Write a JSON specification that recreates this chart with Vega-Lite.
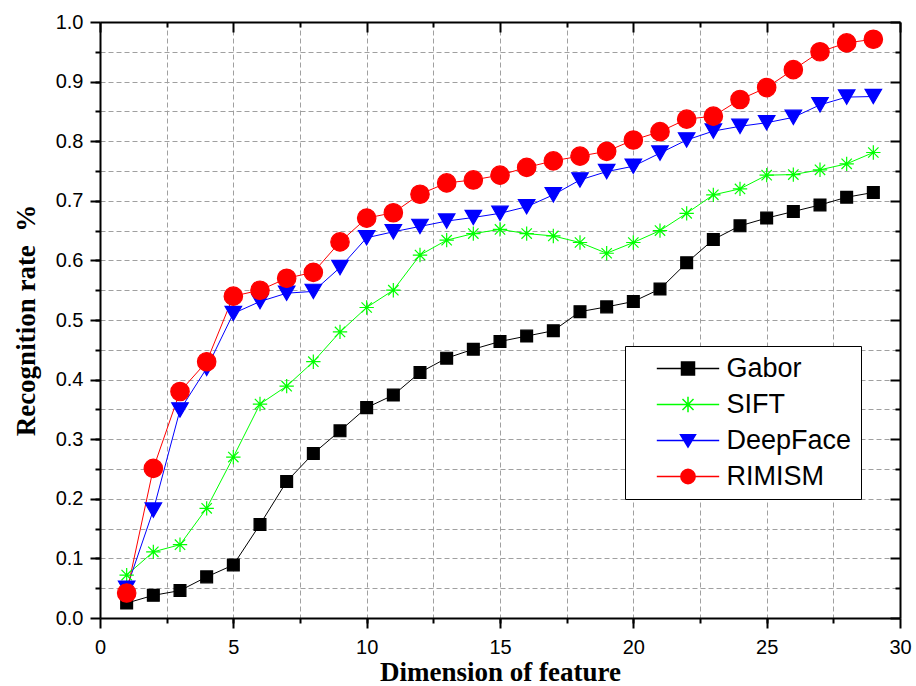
{
  "$schema": "https://vega.github.io/schema/vega-lite/v6.json",
  "width": 800,
  "height": 596,
  "autosize": "none",
  "padding": {"left": 100, "top": 22, "right": 16, "bottom": 68},
  "background": "white",
  "config": {"view": {"stroke": null}},
  "data": {
    "values": [
      {"method": "Gabor", "dimension": 1, "rate": 0.025},
      {"method": "Gabor", "dimension": 2, "rate": 0.038},
      {"method": "Gabor", "dimension": 3, "rate": 0.046},
      {"method": "Gabor", "dimension": 4, "rate": 0.069},
      {"method": "Gabor", "dimension": 5, "rate": 0.089},
      {"method": "Gabor", "dimension": 6, "rate": 0.157},
      {"method": "Gabor", "dimension": 7, "rate": 0.229},
      {"method": "Gabor", "dimension": 8, "rate": 0.276},
      {"method": "Gabor", "dimension": 9, "rate": 0.314},
      {"method": "Gabor", "dimension": 10, "rate": 0.353},
      {"method": "Gabor", "dimension": 11, "rate": 0.374},
      {"method": "Gabor", "dimension": 12, "rate": 0.412},
      {"method": "Gabor", "dimension": 13, "rate": 0.436},
      {"method": "Gabor", "dimension": 14, "rate": 0.451},
      {"method": "Gabor", "dimension": 15, "rate": 0.464},
      {"method": "Gabor", "dimension": 16, "rate": 0.473},
      {"method": "Gabor", "dimension": 17, "rate": 0.482},
      {"method": "Gabor", "dimension": 18, "rate": 0.514},
      {"method": "Gabor", "dimension": 19, "rate": 0.522},
      {"method": "Gabor", "dimension": 20, "rate": 0.531},
      {"method": "Gabor", "dimension": 21, "rate": 0.552},
      {"method": "Gabor", "dimension": 22, "rate": 0.596},
      {"method": "Gabor", "dimension": 23, "rate": 0.635},
      {"method": "Gabor", "dimension": 24, "rate": 0.658},
      {"method": "Gabor", "dimension": 25, "rate": 0.671},
      {"method": "Gabor", "dimension": 26, "rate": 0.682},
      {"method": "Gabor", "dimension": 27, "rate": 0.693},
      {"method": "Gabor", "dimension": 28, "rate": 0.706},
      {"method": "Gabor", "dimension": 29, "rate": 0.714},
      {"method": "SIFT", "dimension": 1, "rate": 0.072},
      {"method": "SIFT", "dimension": 2, "rate": 0.111},
      {"method": "SIFT", "dimension": 3, "rate": 0.123},
      {"method": "SIFT", "dimension": 4, "rate": 0.184},
      {"method": "SIFT", "dimension": 5, "rate": 0.27},
      {"method": "SIFT", "dimension": 6, "rate": 0.359},
      {"method": "SIFT", "dimension": 7, "rate": 0.389},
      {"method": "SIFT", "dimension": 8, "rate": 0.43},
      {"method": "SIFT", "dimension": 9, "rate": 0.48},
      {"method": "SIFT", "dimension": 10, "rate": 0.521},
      {"method": "SIFT", "dimension": 11, "rate": 0.55},
      {"method": "SIFT", "dimension": 12, "rate": 0.609},
      {"method": "SIFT", "dimension": 13, "rate": 0.634},
      {"method": "SIFT", "dimension": 14, "rate": 0.645},
      {"method": "SIFT", "dimension": 15, "rate": 0.652},
      {"method": "SIFT", "dimension": 16, "rate": 0.645},
      {"method": "SIFT", "dimension": 17, "rate": 0.641},
      {"method": "SIFT", "dimension": 18, "rate": 0.63},
      {"method": "SIFT", "dimension": 19, "rate": 0.612},
      {"method": "SIFT", "dimension": 20, "rate": 0.63},
      {"method": "SIFT", "dimension": 21, "rate": 0.65},
      {"method": "SIFT", "dimension": 22, "rate": 0.679},
      {"method": "SIFT", "dimension": 23, "rate": 0.71},
      {"method": "SIFT", "dimension": 24, "rate": 0.72},
      {"method": "SIFT", "dimension": 25, "rate": 0.743},
      {"method": "SIFT", "dimension": 26, "rate": 0.744},
      {"method": "SIFT", "dimension": 27, "rate": 0.752},
      {"method": "SIFT", "dimension": 28, "rate": 0.762},
      {"method": "SIFT", "dimension": 29, "rate": 0.781},
      {"method": "DeepFace", "dimension": 1, "rate": 0.05},
      {"method": "DeepFace", "dimension": 2, "rate": 0.181},
      {"method": "DeepFace", "dimension": 3, "rate": 0.349},
      {"method": "DeepFace", "dimension": 4, "rate": 0.419},
      {"method": "DeepFace", "dimension": 5, "rate": 0.511},
      {"method": "DeepFace", "dimension": 6, "rate": 0.531},
      {"method": "DeepFace", "dimension": 7, "rate": 0.545},
      {"method": "DeepFace", "dimension": 8, "rate": 0.548},
      {"method": "DeepFace", "dimension": 9, "rate": 0.588},
      {"method": "DeepFace", "dimension": 10, "rate": 0.638},
      {"method": "DeepFace", "dimension": 11, "rate": 0.648},
      {"method": "DeepFace", "dimension": 12, "rate": 0.657},
      {"method": "DeepFace", "dimension": 13, "rate": 0.666},
      {"method": "DeepFace", "dimension": 14, "rate": 0.672},
      {"method": "DeepFace", "dimension": 15, "rate": 0.679},
      {"method": "DeepFace", "dimension": 16, "rate": 0.69},
      {"method": "DeepFace", "dimension": 17, "rate": 0.71},
      {"method": "DeepFace", "dimension": 18, "rate": 0.735},
      {"method": "DeepFace", "dimension": 19, "rate": 0.749},
      {"method": "DeepFace", "dimension": 20, "rate": 0.758},
      {"method": "DeepFace", "dimension": 21, "rate": 0.78},
      {"method": "DeepFace", "dimension": 22, "rate": 0.802},
      {"method": "DeepFace", "dimension": 23, "rate": 0.817},
      {"method": "DeepFace", "dimension": 24, "rate": 0.825},
      {"method": "DeepFace", "dimension": 25, "rate": 0.831},
      {"method": "DeepFace", "dimension": 26, "rate": 0.84},
      {"method": "DeepFace", "dimension": 27, "rate": 0.861},
      {"method": "DeepFace", "dimension": 28, "rate": 0.874},
      {"method": "DeepFace", "dimension": 29, "rate": 0.875},
      {"method": "RIMISM", "dimension": 1, "rate": 0.042},
      {"method": "RIMISM", "dimension": 2, "rate": 0.251},
      {"method": "RIMISM", "dimension": 3, "rate": 0.38},
      {"method": "RIMISM", "dimension": 4, "rate": 0.43},
      {"method": "RIMISM", "dimension": 5, "rate": 0.54},
      {"method": "RIMISM", "dimension": 6, "rate": 0.55},
      {"method": "RIMISM", "dimension": 7, "rate": 0.57},
      {"method": "RIMISM", "dimension": 8, "rate": 0.58},
      {"method": "RIMISM", "dimension": 9, "rate": 0.631},
      {"method": "RIMISM", "dimension": 10, "rate": 0.671},
      {"method": "RIMISM", "dimension": 11, "rate": 0.68},
      {"method": "RIMISM", "dimension": 12, "rate": 0.711},
      {"method": "RIMISM", "dimension": 13, "rate": 0.73},
      {"method": "RIMISM", "dimension": 14, "rate": 0.735},
      {"method": "RIMISM", "dimension": 15, "rate": 0.743},
      {"method": "RIMISM", "dimension": 16, "rate": 0.756},
      {"method": "RIMISM", "dimension": 17, "rate": 0.767},
      {"method": "RIMISM", "dimension": 18, "rate": 0.775},
      {"method": "RIMISM", "dimension": 19, "rate": 0.783},
      {"method": "RIMISM", "dimension": 20, "rate": 0.802},
      {"method": "RIMISM", "dimension": 21, "rate": 0.816},
      {"method": "RIMISM", "dimension": 22, "rate": 0.837},
      {"method": "RIMISM", "dimension": 23, "rate": 0.842},
      {"method": "RIMISM", "dimension": 24, "rate": 0.87},
      {"method": "RIMISM", "dimension": 25, "rate": 0.89},
      {"method": "RIMISM", "dimension": 26, "rate": 0.92},
      {"method": "RIMISM", "dimension": 27, "rate": 0.95},
      {"method": "RIMISM", "dimension": 28, "rate": 0.965},
      {"method": "RIMISM", "dimension": 29, "rate": 0.971}
    ]
  },
  "layer": [
    {
      "mark": {"type": "point", "opacity": 0},
      "encoding": {
        "x": {"field": "dimension", "type": "quantitative", "scale": {"domain": [0, 30], "nice": false},
          "axis": {"orient": "bottom", "values": [2.5, 5, 7.5, 10, 12.5, 15, 17.5, 20, 22.5, 25, 27.5],
            "grid": true, "gridColor": "#a0a0a0", "gridDash": [5, 3], "gridWidth": 1,
            "ticks": true, "tickSize": 5, "tickWidth": 2, "tickColor": "#000000",
            "labels": false, "domain": false, "title": null, "zindex": 0}},
        "y": {"field": "rate", "type": "quantitative", "scale": {"domain": [0, 1], "nice": false},
          "axis": {"orient": "left", "values": [0.05, 0.1, 0.15, 0.2, 0.25, 0.3, 0.35, 0.4, 0.45, 0.5, 0.55, 0.6, 0.65, 0.7, 0.75, 0.8, 0.85, 0.9, 0.95],
            "grid": true, "gridColor": "#a0a0a0", "gridDash": [5, 3], "gridWidth": 1,
            "ticks": true, "tickSize": 5, "tickWidth": 2, "tickColor": "#000000",
            "labels": false, "domain": false, "title": null, "zindex": 0}}
      }
    },
    {
      "mark": {"type": "line", "strokeWidth": 1},
      "encoding": {
        "x": {"field": "dimension", "type": "quantitative",
          "axis": {"orient": "bottom", "values": [0, 5, 10, 15, 20, 25, 30], "grid": false,
            "tickSize": 10, "tickWidth": 2, "tickColor": "#000000",
            "domain": true, "domainColor": "#000000", "domainWidth": 2,
            "labelFont": "Liberation Sans", "labelFontSize": 20, "labelColor": "#000000",
            "labelPadding": 9, "labelFlush": false, "labelOverlap": false,
            "title": "Dimension of feature", "titleFont": "Liberation Serif", "titleFontWeight": "bold",
            "titleFontSize": 27, "titleColor": "#000000", "titlePadding": 2, "zindex": 2}},
        "y": {"field": "rate", "type": "quantitative",
          "axis": {"orient": "left", "values": [0, 0.1, 0.2, 0.3, 0.4, 0.5, 0.6, 0.7, 0.8, 0.9, 1.0], "format": ".1f", "grid": false,
            "tickSize": 10, "tickWidth": 2, "tickColor": "#000000",
            "domain": true, "domainColor": "#000000", "domainWidth": 2,
            "labelFont": "Liberation Sans", "labelFontSize": 20, "labelColor": "#000000",
            "labelPadding": 7, "labelOverlap": false,
            "title": "Recognition rate\u00a0\u00a0%", "titleFont": "Liberation Serif", "titleFontWeight": "bold",
            "titleFontSize": 27, "titleColor": "#000000", "titlePadding": 15, "zindex": 2}},
        "stroke": {"field": "method", "type": "nominal",
          "scale": {"domain": ["Gabor", "SIFT", "DeepFace", "RIMISM"], "range": ["#000000", "#00ff00", "#0000ff", "#ff0000"]},
          "legend": null}
      }
    },
    {
      "mark": {"type": "point", "filled": true, "opacity": 1, "strokeWidth": 1.2},
      "encoding": {
        "x": {"field": "dimension", "type": "quantitative", "axis": null},
        "y": {"field": "rate", "type": "quantitative", "axis": null},
        "fill": {"field": "method", "type": "nominal",
          "scale": {"domain": ["Gabor", "SIFT", "DeepFace", "RIMISM"], "range": ["#000000", "#00ff00", "#0000ff", "#ff0000"]}, "legend": null},
        "stroke": {"field": "method", "type": "nominal",
          "scale": {"domain": ["Gabor", "SIFT", "DeepFace", "RIMISM"], "range": ["#000000", "#00ff00", "#0000ff", "#ff0000"]}, "legend": null},
        "shape": {"field": "method", "type": "nominal",
          "scale": {"domain": ["Gabor", "SIFT", "DeepFace", "RIMISM"], "range": ["square", "M-1,0H1M0,-1V1M-0.72,-0.72L0.72,0.72M-0.72,0.72L0.72,-0.72", "triangle-down", "circle"]}, "legend": null},
        "size": {"field": "method", "type": "nominal",
          "scale": {"domain": ["Gabor", "SIFT", "DeepFace", "RIMISM"], "range": [140, 340, 306, 210]}, "legend": null}
      }
    },
    {
      "mark": {"type": "point", "opacity": 0},
      "encoding": {
        "x": {"field": "dimension", "type": "quantitative",
          "axis": {"orient": "top", "values": [0, 5, 10, 15, 20, 25, 30], "grid": false,
            "tickSize": -10, "tickWidth": 2, "tickColor": "#000000",
            "domain": true, "domainColor": "#000000", "domainWidth": 2,
            "labels": false, "title": null, "zindex": 2}},
        "y": {"field": "rate", "type": "quantitative",
          "axis": {"orient": "right", "values": [0, 0.1, 0.2, 0.3, 0.4, 0.5, 0.6, 0.7, 0.8, 0.9, 1.0], "grid": false,
            "tickSize": -10, "tickWidth": 2, "tickColor": "#000000",
            "domain": true, "domainColor": "#000000", "domainWidth": 2,
            "labels": false, "title": null, "zindex": 2}}
      }
    },
    {
      "mark": {"type": "point", "opacity": 0},
      "encoding": {
        "x": {"field": "dimension", "type": "quantitative",
          "axis": {"orient": "top", "values": [2.5, 7.5, 12.5, 17.5, 22.5, 27.5], "grid": false,
            "tickSize": -5, "tickWidth": 2, "tickColor": "#000000",
            "domain": false, "labels": false, "title": null, "zindex": 2}},
        "y": {"field": "rate", "type": "quantitative",
          "axis": {"orient": "right", "values": [0.05, 0.15, 0.25, 0.35, 0.45, 0.55, 0.65, 0.75, 0.85, 0.95], "grid": false,
            "tickSize": -5, "tickWidth": 2, "tickColor": "#000000",
            "domain": false, "labels": false, "title": null, "zindex": 2}}
      }
    },
    {
      "transform": [{"filter": "datum.dimension < 0"}],
      "mark": {"type": "point", "filled": true, "size": 169, "strokeWidth": 1.5, "opacity": 1},
      "encoding": {
        "x": {"field": "dimension", "type": "quantitative", "axis": null},
        "y": {"field": "rate", "type": "quantitative", "axis": null},
        "shape": {"field": "method", "type": "nominal",
          "scale": {"domain": ["Gabor", "SIFT", "DeepFace", "RIMISM"], "range": [
            "M-4.8,0H4.8M-1,-1H1V1H-1Z",
            "M-4.8,0H4.8M0,-1.2V1.2M-0.85,-0.85L0.85,0.85M-0.85,0.85L0.85,-0.85",
            "M-4.8,0H4.8M-1.15,-0.9H1.15L0,1Z",
            "M-4.8,0H4.8M1.1,0L1.016,0.421L0.778,0.778L0.421,1.016L0,1.1L-0.421,1.016L-0.778,0.778L-1.016,0.421L-1.1,0L-1.016,-0.421L-0.778,-0.778L-0.421,-1.016L0,-1.1L0.421,-1.016L0.778,-0.778L1.016,-0.421Z"]},
          "legend": {
            "orient": "none", "legendX": 525, "legendY": 324,
            "title": null,
            "padding": 9, "fillColor": "#ffffff", "strokeColor": "#000000",
            "labelFont": "Liberation Sans", "labelFontSize": 27, "labelColor": "#000000", "labelLimit": 400,
            "rowPadding": 8, "symbolSize": 169, "symbolStrokeWidth": 1.5, "symbolOpacity": 1,
            "symbolOffset": 40.5, "labelOffset": 25}},
        "fill": {"field": "method", "type": "nominal",
          "scale": {"domain": ["Gabor", "SIFT", "DeepFace", "RIMISM"], "range": ["#000000", "#00ff00", "#0000ff", "#ff0000"]},
          "legend": {
            "orient": "none", "legendX": 525, "legendY": 324,
            "title": null,
            "padding": 9, "fillColor": "#ffffff", "strokeColor": "#000000",
            "labelFont": "Liberation Sans", "labelFontSize": 27, "labelColor": "#000000", "labelLimit": 400,
            "rowPadding": 8, "symbolSize": 169, "symbolStrokeWidth": 1.5, "symbolOpacity": 1,
            "symbolOffset": 40.5, "labelOffset": 25}},
        "stroke": {"field": "method", "type": "nominal",
          "scale": {"domain": ["Gabor", "SIFT", "DeepFace", "RIMISM"], "range": ["#000000", "#00ff00", "#0000ff", "#ff0000"]},
          "legend": {
            "orient": "none", "legendX": 525, "legendY": 324,
            "title": null,
            "padding": 9, "fillColor": "#ffffff", "strokeColor": "#000000",
            "labelFont": "Liberation Sans", "labelFontSize": 27, "labelColor": "#000000", "labelLimit": 400,
            "rowPadding": 8, "symbolSize": 169, "symbolStrokeWidth": 1.5, "symbolOpacity": 1,
            "symbolOffset": 40.5, "labelOffset": 25}}
      }
    }
  ],
  "resolve": {
    "axis": {"x": "independent", "y": "independent"},
    "scale": {"shape": "independent", "fill": "independent", "stroke": "independent", "size": "independent"}
  }
}
